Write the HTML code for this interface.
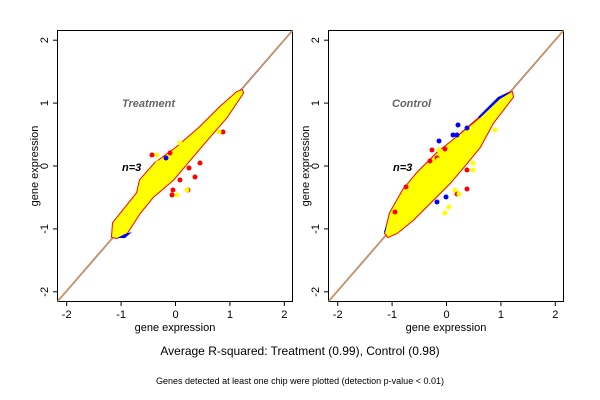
<!DOCTYPE html>
<html><head><meta charset="utf-8"><style>
html,body{margin:0;padding:0;background:#fff}
svg{display:block}
text{font-family:"Liberation Sans",sans-serif}
</style></head><body>
<svg width="600" height="400" viewBox="0 0 600 400" xmlns="http://www.w3.org/2000/svg">

<!-- LEFT PANEL -->
<g>
<rect x="57.5" y="30.5" width="235" height="271" fill="none" stroke="#000" stroke-width="1"/>
<line x1="57.5" y1="301.5" x2="292.5" y2="30.5" stroke="#3344ff" stroke-width="1.6"/>
<line x1="57.5" y1="301.5" x2="292.5" y2="30.5" stroke="#ffa500" stroke-width="1"/>
<text x="122" y="107" font-size="11" font-weight="bold" font-style="italic" fill="#666">Treatment</text>
<text x="122" y="171" font-size="11" font-weight="bold" font-style="italic" fill="#000">n=3</text>
<g stroke="#000" stroke-width="1">
<line x1="66.7" y1="301.5" x2="66.7" y2="306"/><line x1="121.1" y1="301.5" x2="121.1" y2="306"/><line x1="175.5" y1="301.5" x2="175.5" y2="306"/><line x1="229.9" y1="301.5" x2="229.9" y2="306"/><line x1="284.3" y1="301.5" x2="284.3" y2="306"/>
<line x1="57.5" y1="40.2" x2="53" y2="40.2"/><line x1="57.5" y1="103.1" x2="53" y2="103.1"/><line x1="57.5" y1="166" x2="53" y2="166"/><line x1="57.5" y1="228.9" x2="53" y2="228.9"/><line x1="57.5" y1="291.8" x2="53" y2="291.8"/>
</g>
<g font-size="11" text-anchor="middle">
<text x="66.7" y="318">-2</text><text x="121.1" y="318">-1</text><text x="175.5" y="318">0</text><text x="229.9" y="318">1</text><text x="284.3" y="318">2</text>
<text transform="translate(48,40.2) rotate(-90)">2</text><text transform="translate(48,103.1) rotate(-90)">1</text><text transform="translate(48,166) rotate(-90)">0</text><text transform="translate(48,228.9) rotate(-90)">-1</text><text transform="translate(48,291.8) rotate(-90)">-2</text>
<text x="175" y="331">gene expression</text>
<text transform="translate(38,166) rotate(-90)">gene expression</text>
</g>
</g>
<polygon fill="#ff0000" stroke="#ff0000" stroke-width="2" stroke-linejoin="round" points="112,237 113,223 137,193 140,180 155,163 177,147 200,127 220,107 237,92 242,90 243,93 227,117 207,140 190,160 173,180 153,197 140,213 127,233 117,238"/>
<polygon fill="#0000ff" points="114,238 125,238 132,232 118,236"/>
<polygon fill="#ffff00" points="112,237 113,223 137,193 140,180 155,163 177,147 200,127 220,107 237,92 242,90 243,93 227,117 207,140 190,160 173,180 153,197 140,213 127,233 117,238"/>
<g fill="#ff0000">
<circle cx="152" cy="155" r="2.5"/><circle cx="170" cy="153" r="2.5"/><circle cx="189" cy="168" r="2.5"/><circle cx="200" cy="163" r="2.5"/><circle cx="195" cy="177" r="2.5"/><circle cx="173" cy="190" r="2.5"/><circle cx="172" cy="195" r="2.5"/><circle cx="223" cy="132" r="2.5"/><circle cx="180" cy="180" r="2.5"/><circle cx="188" cy="190" r="2.5"/>
</g>
<g fill="#ffff00">
<circle cx="157" cy="155" r="2.5"/><circle cx="158" cy="163" r="2.5"/><circle cx="187" cy="190" r="2.5"/><circle cx="177" cy="195" r="2.5"/><circle cx="219" cy="132" r="2.5"/><circle cx="180" cy="143" r="2.5"/>
</g>
<g fill="#0000ff"><circle cx="166" cy="158" r="2.5"/></g>

<!-- RIGHT PANEL -->
<g transform="translate(271,0)">
<rect x="57.5" y="30.5" width="235" height="271" fill="none" stroke="#000" stroke-width="1"/>
<line x1="57.5" y1="301.5" x2="292.5" y2="30.5" stroke="#3344ff" stroke-width="1.6"/>
<line x1="57.5" y1="301.5" x2="292.5" y2="30.5" stroke="#ffa500" stroke-width="1"/>
<text x="121" y="107" font-size="11" font-weight="bold" font-style="italic" fill="#666">Control</text>
<text x="122" y="171" font-size="11" font-weight="bold" font-style="italic" fill="#000">n=3</text>
<g stroke="#000" stroke-width="1">
<line x1="66.7" y1="301.5" x2="66.7" y2="306"/><line x1="121.1" y1="301.5" x2="121.1" y2="306"/><line x1="175.5" y1="301.5" x2="175.5" y2="306"/><line x1="229.9" y1="301.5" x2="229.9" y2="306"/><line x1="284.3" y1="301.5" x2="284.3" y2="306"/>
<line x1="57.5" y1="40.2" x2="53" y2="40.2"/><line x1="57.5" y1="103.1" x2="53" y2="103.1"/><line x1="57.5" y1="166" x2="53" y2="166"/><line x1="57.5" y1="228.9" x2="53" y2="228.9"/><line x1="57.5" y1="291.8" x2="53" y2="291.8"/>
</g>
<g font-size="11" text-anchor="middle">
<text x="66.7" y="318">-2</text><text x="121.1" y="318">-1</text><text x="175.5" y="318">0</text><text x="229.9" y="318">1</text><text x="284.3" y="318">2</text>
<text transform="translate(48,40.2) rotate(-90)">2</text><text transform="translate(48,103.1) rotate(-90)">1</text><text transform="translate(48,166) rotate(-90)">0</text><text transform="translate(48,228.9) rotate(-90)">-1</text><text transform="translate(48,291.8) rotate(-90)">-2</text>
<text x="175" y="331">gene expression</text>
<text transform="translate(38,166) rotate(-90)">gene expression</text>
</g>
</g>
<polygon fill="#ff0000" stroke="#ff0000" stroke-width="2" stroke-linejoin="round" points="385,233 390,213 403,190 417,173 437,153 457,137 480,117 500,98 512,92 513,97 493,123 480,147 467,163 450,183 430,203 413,220 397,233 388,237"/>
<polygon fill="#0000ff" points="478,117 498,97 511,91 500,100 481,119"/>
<polygon fill="#0000ff" points="384,232 386,226 389,228 387,234"/>
<polygon fill="#ffff00" points="385,233 390,213 403,190 417,173 437,153 457,137 480,118 500,99 512,92 513,97 493,123 480,147 467,163 450,183 430,203 413,220 397,233 388,237"/>
<g fill="#0000ff">
<circle cx="458" cy="125" r="2.5"/><circle cx="467" cy="128" r="2.5"/><circle cx="453" cy="135" r="2.5"/><circle cx="457" cy="135" r="2.5"/><circle cx="439" cy="141" r="2.5"/><circle cx="446" cy="197" r="2.5"/><circle cx="437" cy="202" r="2.5"/>
</g>
<g fill="#ff0000">
<circle cx="432" cy="150" r="2.5"/><circle cx="445" cy="149" r="2.5"/><circle cx="430" cy="161" r="2.5"/><circle cx="437" cy="158" r="2.5"/><circle cx="406" cy="187" r="2.5"/><circle cx="467" cy="189" r="2.5"/><circle cx="457" cy="194" r="2.5"/><circle cx="467" cy="170" r="2.5"/><circle cx="395" cy="212" r="2.5"/>
</g>
<g fill="#ffff00">
<circle cx="439" cy="150" r="2.5"/><circle cx="438" cy="160" r="2.5"/><circle cx="473" cy="163" r="2.5"/><circle cx="473" cy="170" r="2.5"/><circle cx="455" cy="190" r="2.5"/><circle cx="459" cy="194" r="2.5"/><circle cx="449" cy="207" r="2.5"/><circle cx="445" cy="213" r="2.5"/><circle cx="495" cy="130" r="2.5"/>
</g>

<text x="300" y="355" font-size="12" text-anchor="middle">Average R-squared: Treatment (0.99), Control (0.98)</text>
<text x="300" y="384" font-size="9" text-anchor="middle">Genes detected at least one chip were plotted (detection p-value &lt; 0.01)</text>
</svg>
</body></html>
